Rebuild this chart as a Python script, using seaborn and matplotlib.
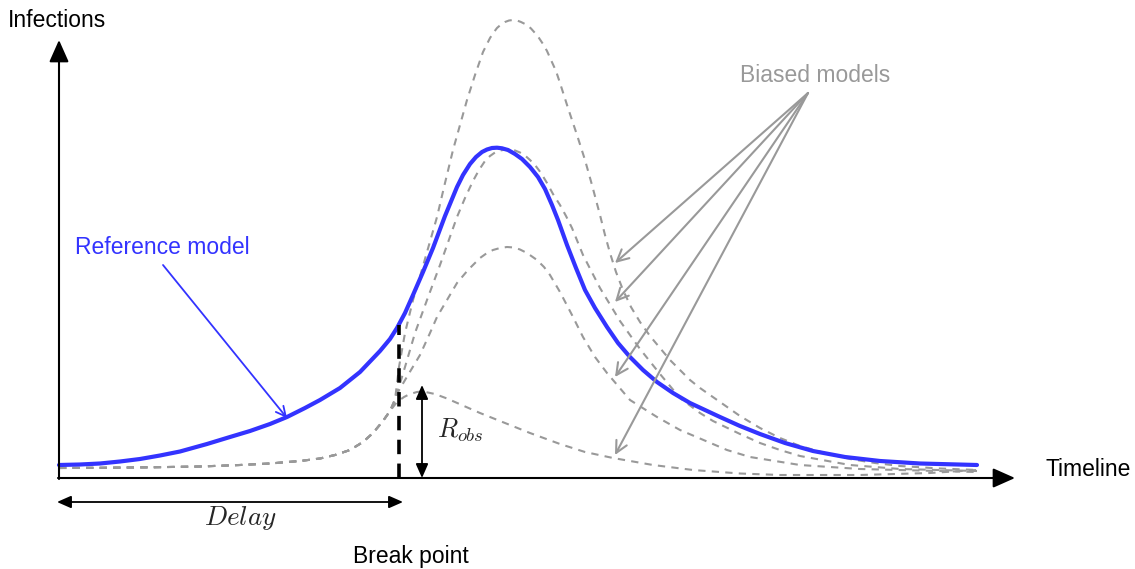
import numpy as np
import pandas as pd
import matplotlib
matplotlib.use("Agg")
import matplotlib.pyplot as plt
import seaborn as sns

# ---------------------------------------------
# curve values
# ---------------------------------------------
ref_t = [0, 21, 41, 61, 81, 101, 121, 148, 171, 191, 211, 228, 246, 261, 281, 301, 321,
         331, 338, 346, 354, 364, 374, 386, 398, 404, 411, 417, 423, 428, 433, 438, 443,
         449, 456, 463, 471, 479, 486, 493, 499, 508, 517, 526, 536, 548, 559, 571, 584,
         598, 614, 631, 646, 661, 681, 701, 726, 754, 786, 821, 861, 918]
ref_v = [13, 13.5, 14.5, 16.5, 19, 22.5, 26.5, 34, 41, 47, 54, 61, 70, 78, 90, 106, 127,
         139, 150, 165, 183, 206, 230, 262, 291, 303, 314, 321, 326, 328.5, 330, 330.3,
         329.7, 328, 324, 319, 311, 301, 289, 273, 258, 233, 210, 188, 170, 151, 135, 121,
         108, 96, 85, 75, 68, 61, 52, 44, 35, 27, 21, 17, 14.5, 13]

# the biased models share the same start
shared_t = [0, 41, 91, 141, 181, 211, 241, 261, 276, 291, 304, 314, 324, 331]
shared_v = [10, 10.2, 10.7, 11.5, 13, 14.5, 17, 19.5, 23, 28, 36, 45, 57, 67]

high_t = shared_t + [336, 340, 346, 354, 362, 370, 378, 386, 394, 401, 408, 416, 424, 428,
                     431, 435, 438, 442, 446, 450, 454, 458, 462, 468, 472, 476, 480, 484,
                     488, 492, 497, 501, 509, 518, 526, 533, 541, 546, 551, 557, 564, 572,
                     581, 591, 601, 611, 621, 631, 641, 661, 681, 701, 721, 741, 766, 791,
                     816, 841, 881, 918]
high_v = shared_v + [78, 111, 145, 178, 205, 233, 261, 295, 328, 353, 378, 403, 426, 434,
                     440, 446, 450, 453.5, 456, 457.5, 458, 457.5, 456, 453, 449.5, 445, 440,
                     434, 427, 418, 407, 395, 370, 343, 318, 293, 263, 243, 225, 206, 188,
                     171, 156, 142, 130, 118, 108, 98, 90, 76, 62, 50, 40, 32, 25, 19, 15,
                     12, 9.5, 8]

mid_t = shared_t + [336, 346, 356, 368, 381, 398, 406, 414, 420, 426, 431, 436, 441, 446,
                    451, 456, 461, 466, 471, 476, 482, 488, 494, 501, 507, 513, 524, 541,
                    561, 581, 601, 621, 641, 654, 681, 701, 721, 741, 791, 841, 918]
mid_v = shared_v + [78, 111, 145, 178, 213, 261, 280, 297, 308, 317, 322, 325.5, 327.5,
                    328.3, 328.3, 327.5, 325.5, 322.5, 318, 313, 305, 295, 284, 273, 262,
                    250, 223, 190, 157, 129, 104, 80, 65, 57, 44, 35, 28, 22, 13, 9, 7]

low_t = shared_t + [339, 349, 361, 371, 378, 388, 398, 409, 421, 428, 434, 441, 448, 455,
                    461, 468, 478, 485, 491, 501, 513, 524, 536, 548, 571, 598, 621, 668,
                    691, 741, 801, 918]
low_v = shared_v + [86, 103, 123, 145, 161, 178, 195, 208, 220, 225, 228, 230, 231, 230.5,
                    228.5, 225, 218, 211, 203, 186, 163, 141, 121, 105, 78, 61, 48, 28,
                    21, 13, 9, 6]

obs_t = shared_t + [338, 345, 351, 358, 364, 376, 388, 405, 421, 446, 471, 501, 526, 554,
                    594, 634, 681, 721, 801, 871, 918]
obs_v = shared_v + [76, 81, 84, 86, 86.5, 84, 79.5, 72, 65, 55, 45, 34, 26, 20, 13, 8, 4.5,
                    3, 3, 5, 8]

break_t = 340      # break point on the timeline
break_v = 153      # reference model value at the break point
r_obs = 93         # observed peak of the biased run
obs_peak_t = 363
tip_t = 556
biased_tips = [215, 176, 101, 23]

blue = "#3333ff"
grey = "#999999"

sns.set_theme(style="white")
plt.rcParams["font.family"] = ["Liberation Sans", "DejaVu Sans"]
plt.rcParams["mathtext.fontset"] = "cm"

fig = plt.figure(figsize=(11.35, 5.69), dpi=100)
ax = fig.add_axes([0, 0, 1, 1])
ax.set_xlim(-59, 1076)
ax.set_ylim(-91, 478)
ax.axis("off")

# biased models
for t, v in [(high_t, high_v), (mid_t, mid_v), (low_t, low_v), (obs_t, obs_v)]:
    sns.lineplot(x=t, y=v, ax=ax, sort=False, estimator=None, color=grey,
                 lw=1.5, dashes=False, linestyle=(0, (3.5, 3)), zorder=2)

# reference model
sns.lineplot(x=ref_t, y=ref_v, ax=ax, sort=False, estimator=None, color=blue,
             lw=3, zorder=3)

# break point
ax.vlines(break_t, 0, break_v, color="black", lw=2.6, linestyles=(0, (4, 2.6)), zorder=4)

# axes with arrows
axis_kw = dict(arrowstyle="-|>,head_length=0.45,head_width=0.2", color="black",
               lw=1.5, mutation_scale=30, shrinkA=0, shrinkB=0)
ax.annotate("", xy=(956, 0), xytext=(-1, 0), arrowprops=axis_kw)
ax.annotate("", xy=(0, 438), xytext=(0, -1), arrowprops=axis_kw)

small_kw = dict(arrowstyle="<|-|>,head_length=0.5,head_width=0.22", color="black",
                lw=1.3, mutation_scale=17, shrinkA=0, shrinkB=0)
ax.annotate("", xy=(344, -24), xytext=(-2, -24), arrowprops=small_kw)
ax.annotate("", xy=(obs_peak_t, r_obs), xytext=(obs_peak_t, 0), arrowprops=small_kw)

ax.annotate("", xy=(228, 60), xytext=(104, 213),
            arrowprops=dict(arrowstyle="->,head_length=0.5,head_width=0.25", color=blue,
                            lw=1.3, mutation_scale=14, shrinkA=0, shrinkB=0))
for tip in biased_tips:
    ax.annotate("", xy=(tip_t, tip), xytext=(749, 385),
                arrowprops=dict(arrowstyle="->,head_length=0.6,head_width=0.3", color=grey,
                                lw=1.5, mutation_scale=14, shrinkA=0, shrinkB=0))

# labels
ax.text(-51, 458, "Infections", fontsize=16.5, ha="left", va="center", color="black")
ax.text(987, 8, "Timeline", fontsize=16.5, ha="left", va="center", color="black")
ax.text(352, -78, "Break point", fontsize=16.5, ha="center", va="center", color="black")
ax.text(181, -40, r"$Delay$", fontsize=19.5, ha="center", va="center")
ax.text(378, 48, r"$R_{obs}$", fontsize=19, ha="left", va="center")
ax.text(16, 231, "Reference model", fontsize=16.5, ha="left", va="center", color=blue)
ax.text(756, 403, "Biased models", fontsize=16.5, ha="center", va="center", color=grey)

fig.savefig("out.png", dpi=100)
